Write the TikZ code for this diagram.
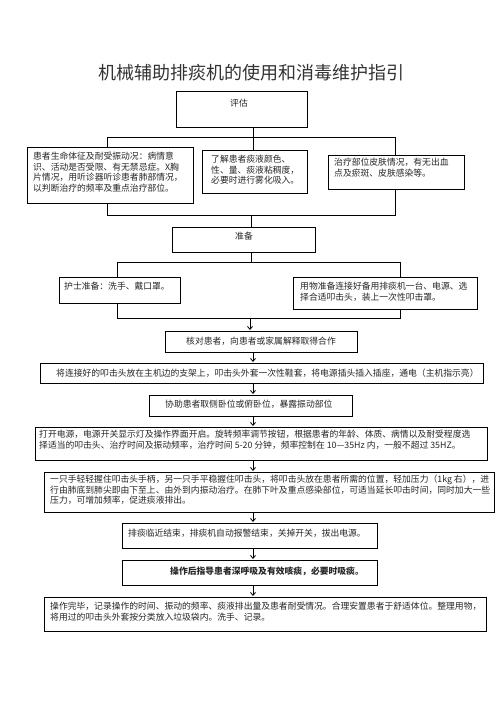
\documentclass[tikz,border=0pt]{standalone}
\usepackage{fontspec}
\setmainfont{Noto Sans CJK SC}
\usetikzlibrary{arrows.meta,calc}
\newcommand\myfs{\fontsize{8.8}{10.6}\selectfont}
\begin{document}
\begin{tikzpicture}[x=1pt,y=-1pt,
  box/.style={draw,line width=0.8pt,inner sep=0pt,anchor=north west},
  txt/.style={inner sep=0pt,anchor=north west,align=left,font=\myfs,text=black!85},
  ctxt/.style={inner sep=0pt,font=\myfs,text=black!85},
  conn/.style={line width=0.8pt},
  arr/.style={line width=0.8pt,-{Straight Barb[length=3pt,width=5pt]},shorten >=1pt}]
\useasboundingbox[fill=white] (0,0) rectangle (496,702);
\node[inner sep=0pt,font=\fontsize{18}{18}\selectfont,text=black!80] (title) at (251,73) {机械辅助排痰机的使用和消毒维护指引};
% boxes
\node[box,minimum width=131pt,minimum height=36pt] (pg) at (176,91) {};
\node[ctxt] (pgt) at (239,103) {评估};
\node[box,minimum width=166pt,minimum height=56pt] (a1) at (27,147) {};
\node[txt] (a1t) at (33,152) {患者生命体征及耐受振动况：病情意\\识、活动是否受限、有无禁忌症。X胸\\片情况，用听诊器听诊患者肺部情况，\\以判断治疗的频率及重点治疗部位。};
\node[box,minimum width=105pt,minimum height=43pt] (a2) at (202,150) {};
\node[txt] (a2t) at (211,155) {了解患者痰液颜色、\\性、量、痰液粘稠度，\\必要时进行雾化吸入。};
\node[box,minimum width=136pt,minimum height=34pt] (a3) at (328,155) {};
\node[txt] (a3t) at (334,158) {治疗部位皮肤情况，有无出血\\点及瘀斑、皮肤感染等。};
\node[box,minimum width=143pt,minimum height=25pt] (zb) at (172,227) {};
\node[ctxt] (zbt) at (244,236) {准备};
\node[box,minimum width=121pt,minimum height=26pt] (b1) at (59,277) {};
\node[txt] (b1t) at (64,282) {护士准备：洗手、戴口罩。};
\node[box,minimum width=184pt,minimum height=32pt] (b2) at (293,277) {};
\node[txt] (b2t) at (300,282) {用物准备连接好备用排痰机一台、电源、选\\择合适叩击头，装上一次性叩击罩。};
\node[box,minimum width=192pt,minimum height=21pt] (c1) at (165,331) {};
\node[ctxt] (c1t) at (261,341) {核对患者，向患者或家属解释取得合作};
\node[box,minimum width=443pt,minimum height=20pt] (c2) at (40,363) {};
\node[ctxt,anchor=west] (c2t) at (56,373) {将连接好的叩击头放在主机边的支架上，叩击头外套一次性鞋套，将电源插头插入插座，通电（主机指示亮）};
\node[box,minimum width=203pt,minimum height=21pt] (c3) at (149,395) {};
\node[ctxt,anchor=west] (c3t) at (165,404) {协助患者取侧卧位或俯卧位，暴露振动部位};
\node[box,minimum width=452pt,minimum height=33pt] (c4) at (35,427) {};
\node[txt] (c4t) at (39,430) {打开电源，电源开关显示灯及操作界面开启。旋转频率调节按钮，根据患者的年龄、体质、病情以及耐受程度选\\择适当的叩击头、治疗时间及振动频率，治疗时间 5-20 分钟，频率控制在 10—35Hz 内，一般不超过 35HZ。};
\node[box,minimum width=450pt,minimum height=40pt] (c5) at (44,472) {};
\node[txt] (c5t) at (50,475) {一只手轻轻握住叩击头手柄，另一只手平稳握住叩击头，将叩击头放在患者所需的位置，轻加压力（1kg 右），进\\行由肺底到肺尖即由下至上、由外到内振动治疗。在肺下叶及重点感染部位，可适当延长叩击时间，同时加大一些\\压力，可增加频率，促进痰液排出。};
\node[box,minimum width=255pt,minimum height=25pt] (c6) at (122,523) {};
\node[ctxt,anchor=west] (c6t) at (128,533) {排痰临近结束，排痰机自动报警结束，关掉开关，拔出电源。};
\node[box,minimum width=255pt,minimum height=25pt] (c7) at (122,560) {};
\node[ctxt,font=\myfs\bfseries] (c7t) at (267,571) {操作后指导患者深呼吸及有效咳痰，必要时吸痰。};
\node[box,minimum width=442pt,minimum height=34pt] (c8) at (44,597) {};
\node[txt] (c8t) at (50,602) {操作完毕，记录操作的时间、振动的频率、痰液排出量及患者耐受情况。合理安置患者于舒适体位。整理用物，\\将用过的叩击头外套按分类放入垃圾袋内。洗手、记录。};
% connectors
\coordinate (j1) at (253,137);
\coordinate (hL) at (107,137);
\coordinate (hR) at (395,137);
\draw[conn] (j1 |- pg.south) -- (j1);
\draw[conn] (hL |- a1.north) -- (hL) -- (hR) -- (hR |- a3.north);
\draw[conn] (j1) -- (j1 |- a2.north);
\coordinate (kL) at (107,215);
\coordinate (kR) at (395,215);
\coordinate (k1) at (251,215);
\draw[conn] (kL |- a1.south) -- (kL) -- (kR) -- (kR |- a3.south);
\draw[conn] (k1) -- (k1 |- zb.north);
\coordinate (mL) at (117,262);
\coordinate (mR) at (400,262);
\coordinate (m1) at (251,262);
\draw[conn] (m1 |- zb.south) -- (m1);
\draw[conn] (mL |- b1.north) -- (mL) -- (mR) -- (mR |- b2.north);
\coordinate (nL) at (117,318);
\coordinate (nR) at (400,318);
\coordinate (n1) at (250,318);
\draw[conn] (nL |- b1.south) -- (nL) -- (nR) -- (nR |- b2.south);
\draw[arr] (n1) -- (n1 |- c1.north);
\coordinate (v) at (253,0);
\draw[arr] (v |- c1.south) -- (v |- c2.north);
\draw[arr] (v |- c2.south) -- (v |- c3.north);
\draw[arr] (v |- c3.south) -- (v |- c4.north);
\draw[arr] (v |- c4.south) -- (v |- c5.north);
\draw[arr] (v |- c5.south) -- (v |- c6.north);
\draw[arr] (v |- c6.south) -- (v |- c7.north);
\draw[arr] (v |- c7.south) -- (v |- c8.north);
\end{tikzpicture}
\end{document}
